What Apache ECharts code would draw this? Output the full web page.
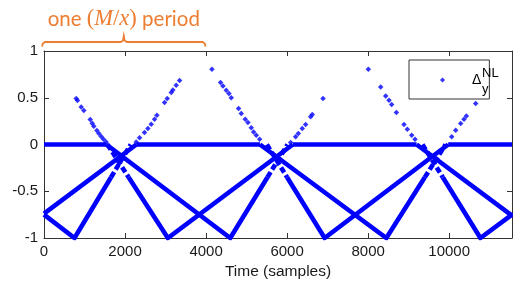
<!DOCTYPE html>
<html>
<head>
<meta charset="utf-8">
<script src="https://cdn.jsdelivr.net/npm/echarts@6.0.0/dist/echarts.min.js"></script>
<style>
html, body { margin: 0; padding: 0; background: #fff; }
#chart { width: 513px; height: 284px; }
</style>
</head>
<body>
<div id="chart"></div>
<script>
// axis ranges / ticks
var xMax = 11550;
var xStep = 2000;
var yTicks = [-1, -0.5, 0, 0.5, 1];

// thick traces (dense sample bands), [time, value] vertices
var flatTraces = [
    [[0, 0], [1540, 0]],
    [[2280, 0], [5330, 0]],
    [[6140, 0], [9195, 0]],
    [[9975, 0], [11550, 0]]
];
var solidTraces = [
    [[0, -0.74], [2280, 0]],
    [[0, -0.75], [753, -1], [1655, -0.35]],
    [[1540, 0], [4597, -1], [5515, -0.35]],
    [[2088, -0.35], [3057, -1], [6140, 0]],
    [[5330, 0], [8449, -1], [9399, -0.35]],
    [[5999, -0.35], [6926, -1], [9975, 0]],
    [[9195, 0], [11550, -0.76]],
    [[9841, -0.35], [10770, -1], [11550, -0.75]]
];
// broken-up parts just under zero
var dashTraces = [
    [[1655, -0.35], [2141, 0]],
    [[1566, 0], [2088, -0.35]],
    [[5515, -0.35], [6010, 0]],
    [[5500, 0], [5999, -0.35]],
    [[9399, -0.35], [9911, 0]],
    [[9341, 0], [9841, -0.35]]
];
// sparse samples above zero
var dots = [
    [794, 0.492], [827, 0.47], [918, 0.402], [983, 0.363], [1140, 0.267], [1189, 0.228],
    [1230, 0.196], [1305, 0.149], [1354, 0.117], [1412, 0.085], [1469, 0.057], [1535, 0.028],
    [2276, 0.028], [2358, 0.071], [2481, 0.128], [2564, 0.171], [2646, 0.217], [2728, 0.271],
    [2786, 0.313], [2975, 0.449], [3041, 0.492], [3140, 0.556], [3181, 0.584], [3263, 0.634],
    [3346, 0.684],
    [4144, 0.805], [4358, 0.663], [4416, 0.627], [4498, 0.581], [4564, 0.545], [4621, 0.499],
    [4802, 0.385], [4868, 0.331], [4967, 0.271], [5033, 0.235], [5115, 0.178], [5173, 0.135],
    [5239, 0.099], [5321, 0.057],
    [6086, 0.021], [6210, 0.082], [6276, 0.117], [6374, 0.171], [6457, 0.214], [6580, 0.296],
    [6621, 0.321], [6885, 0.492],
    [8004, 0.805], [8309, 0.616], [8432, 0.52], [8515, 0.474], [8580, 0.427], [8696, 0.342],
    [8885, 0.214], [8967, 0.164], [9074, 0.099], [9156, 0.057],
    [10062, 0.082], [10160, 0.153], [10284, 0.224], [10366, 0.271], [10424, 0.306], [10654, 0.438]
];

var blue = '#0000ff';
var axisColor = '#333';
var textColor = '#1a1a1a';
var orange = '#ed7d31';

var chart = echarts.init(document.getElementById('chart'));
var series = [];

function addTraces(list, dashed){
    for(var i = 0; i < list.length; i++){
        series.push({
            type: 'line',
            data: list[i],
            symbol: 'none',
            silent: true,
            animation: false,
            z: 2,
            lineStyle: {
                color: blue,
                width: 4.6,
                type: dashed ? [6, 3] : 'solid',
                cap: 'butt',
                join: 'miter'
            }
        });
    }
}
addTraces(flatTraces, false);
addTraces(solidTraces, false);
addTraces(dashTraces, true);

series.push({
    name: 'Δ',
    type: 'scatter',
    data: dots,
    symbol: 'diamond',
    symbolSize: 5.5,
    silent: true,
    animation: false,
    z: 3,
    itemStyle: { color: blue }
});

function valueAxis(pos, isX, main){
    var ax = {
        type: 'value',
        position: pos,
        min: isX ? 0 : yTicks[0],
        max: isX ? xMax : yTicks[yTicks.length - 1],
        interval: isX ? xStep : 0.5,
        splitLine: { show: false },
        axisLine: { show: true, onZero: false, lineStyle: { color: axisColor, width: 1 } },
        axisTick: { show: true, inside: true, length: 5, lineStyle: { color: axisColor } },
        axisLabel: { show: false }
    };
    if(main){
        ax.axisLabel = {
            show: true,
            color: textColor,
            fontFamily: 'Liberation Sans',
            fontSize: 15,
            margin: 6,
            showMaxLabel: !isX,
            formatter: function(v){
                if(isX && v % xStep !== 0) return '';
                return String(v);
            }
        };
    }
    return ax;
}

var xTop = valueAxis('top', true, false);
var xBottom = valueAxis('bottom', true, true);
xBottom.name = 'Time (samples)';
xBottom.nameLocation = 'middle';
xBottom.nameGap = 25;
xBottom.nameTextStyle = { color: textColor, fontFamily: 'Liberation Sans', fontSize: 15.5 };

var option = {
    backgroundColor: '#fff',
    animation: false,
    grid: { left: 44, right: 1, top: 51, bottom: 46, outerBoundsMode: 'none' },
    xAxis: [xBottom, xTop],
    yAxis: [valueAxis('left', false, true), valueAxis('right', false, false)],
    legend: {
        left: 409,
        top: 60,
        orient: 'horizontal',
        selectedMode: false,
        data: [{ name: 'Δ', icon: 'diamond' }],
        itemWidth: 5,
        itemHeight: 5,
        padding: [13, 8, 12, 31],
        backgroundColor: '#fff',
        borderColor: '#333',
        borderWidth: 1,
        borderRadius: 0,
        formatter: function(){
            return '{d|Δ}{s|}';
        },
        textStyle: {
            color: '#000',
            rich: {
                d: { fontFamily: 'Liberation Sans', fontSize: 14, padding: [0, 0, 0, 22] },
                s: { width: 16 }
            }
        }
    },
    series: series
};
chart.setOption(option);

// bracket + caption over the first period, sub/superscript of the legend label
var x0 = chart.convertToPixel({ xAxisIndex: 0 }, 0) - 2;
var x1 = chart.convertToPixel({ xAxisIndex: 0 }, 4000) - 0.5;
var xm = (x0 + x1) / 2;
chart.setOption({
    graphic: [
        {
            type: 'polyline',
            z: 100,
            shape: { points: [[x0, 46.5], [x0 + 0.8, 43.5], [x0 + 3, 42], [xm - 3, 42], [xm - 0.8, 40.5], [xm, 36],
                [xm + 0.8, 40.5], [xm + 3, 42], [x1 - 3, 42], [x1 - 0.8, 43.5], [x1, 46.5]] },
            style: { stroke: orange, lineWidth: 1.8, fill: null }
        },
        {
            type: 'text',
            z: 100,
            x: xm,
            y: 19,
            style: {
                text: '{a|one }{m|(}{i|M}{m|/}{i|x}{m|)}{a| period}',
                align: 'center',
                verticalAlign: 'middle',
                fill: orange,
                rich: {
                    a: { fontFamily: 'Lato', fontSize: 20.5, fill: orange },
                    m: { fontFamily: 'Liberation Serif', fontSize: 22.5, fill: orange },
                    i: { fontFamily: 'Liberation Serif', fontStyle: 'italic', fontSize: 22.5, fill: orange }
                }
            }
        },
        {
            type: 'text',
            z: 100,
            x: 482,
            y: 73.5,
            style: { text: 'NL', font: '13px "Liberation Sans"', fill: '#000', verticalAlign: 'middle' }
        },
        {
            type: 'text',
            z: 100,
            x: 482,
            y: 89.5,
            style: { text: 'y', font: '13px "Liberation Sans"', fill: '#000', verticalAlign: 'middle' }
        }
    ]
});
window.onresize = chart.resize;
</script>
</body>
</html>
